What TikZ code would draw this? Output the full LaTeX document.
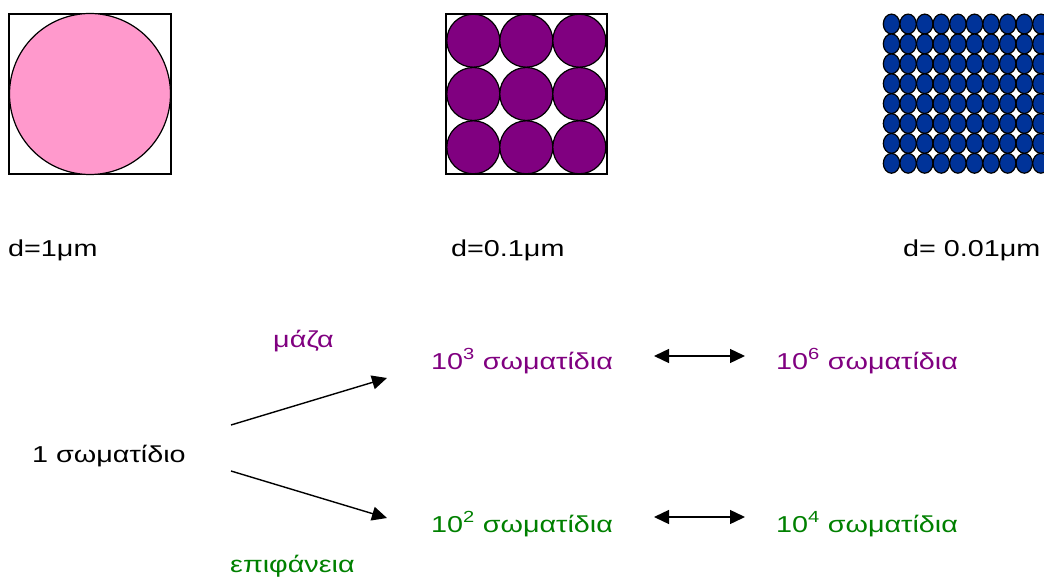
\documentclass[tikz,border=0pt]{standalone}
\usepackage{fontspec}
\setmainfont{Liberation Sans}[FakeStretch=1.25]
\usetikzlibrary{arrows.meta}
\definecolor{pinkc}{HTML}{FF99CC}
\definecolor{purplec}{HTML}{800080}
\definecolor{bluec}{HTML}{003399}
\definecolor{greenc}{HTML}{008000}
\begin{document}
\begin{tikzpicture}[x=1pt,y=-1pt,
  lbl/.style={inner sep=0pt,font=\fontsize{23}{26}\selectfont},
  edge/.style={line width=1.4pt},
  arr/.style={edge,-{Triangle[length=15pt,width=14pt]}},
  darr/.style={edge,{Triangle[length=15pt,width=14pt]}-{Triangle[length=15pt,width=14pt]}},
  particle/.style={draw=black,line width=1.2pt}]
\useasboundingbox (0,0) rectangle (1044,577);
% panel 1
\draw[line width=1.2pt] (9,14) rectangle (171,174);
\fill[pinkc,draw=black,line width=1.2pt] (90,94) circle (80.5);
% panel 2
\draw[line width=1.2pt] (446,14) rectangle (607,174);
\foreach \i in {0,1,2}{\foreach \j in {0,1,2}{
  \draw[particle,fill=purplec] (473.3+53*\i,40.7+53.3*\j) circle (26.5);}}
% panel 3
\begin{scope}
\clip (870,0) rectangle (1044,200);
\foreach \i in {0,...,9}{\foreach \j in {0,...,7}{
  \draw[particle,fill=bluec] (891.5+16.6*\i,24+19.9*\j) ellipse (8.2 and 9.9);}}
\end{scope}
% labels
\node[lbl,anchor=base west] (d1) at (8,257) {d=1μm};
\node[lbl,anchor=base west] (d2) at (451,257) {d=0.1μm};
\node[lbl,anchor=base west] (d3) at (903,257) {d= 0.01μm};
\node[lbl,anchor=base west,text=purplec] (maza) at (273,348) {μάζα};
\node[lbl,anchor=base west,text=purplec] (m3) at (431,369) {10\textsuperscript{3} σωματίδια};
\node[lbl,anchor=base west,text=purplec] (m6) at (776,369) {10\textsuperscript{6} σωματίδια};
\node[lbl,anchor=base west] (one) at (32,462) {1 σωματίδιο};
\node[lbl,anchor=base west,text=greenc] (s2) at (431,532) {10\textsuperscript{2} σωματίδια};
\node[lbl,anchor=base west,text=greenc] (s4) at (776,532) {10\textsuperscript{4} σωματίδια};
\node[lbl,anchor=base west,text=greenc] (epi) at (230,572) {επιφάνεια};
% connectors
\coordinate (a1s) at (231,425);
\coordinate (a1e) at (387,378);
\coordinate (a2s) at (231,471);
\coordinate (a2e) at (387,518);
\draw[arr] (a1s) -- (a1e);
\draw[arr] (a2s) -- (a2e);
\coordinate (b1s) at (654,356);
\coordinate (b1e) at (745,356);
\coordinate (b2s) at (654,517);
\coordinate (b2e) at (745,517);
\draw[darr] (b1s) -- (b1e);
\draw[darr] (b2s) -- (b2e);
\end{tikzpicture}
\end{document}
